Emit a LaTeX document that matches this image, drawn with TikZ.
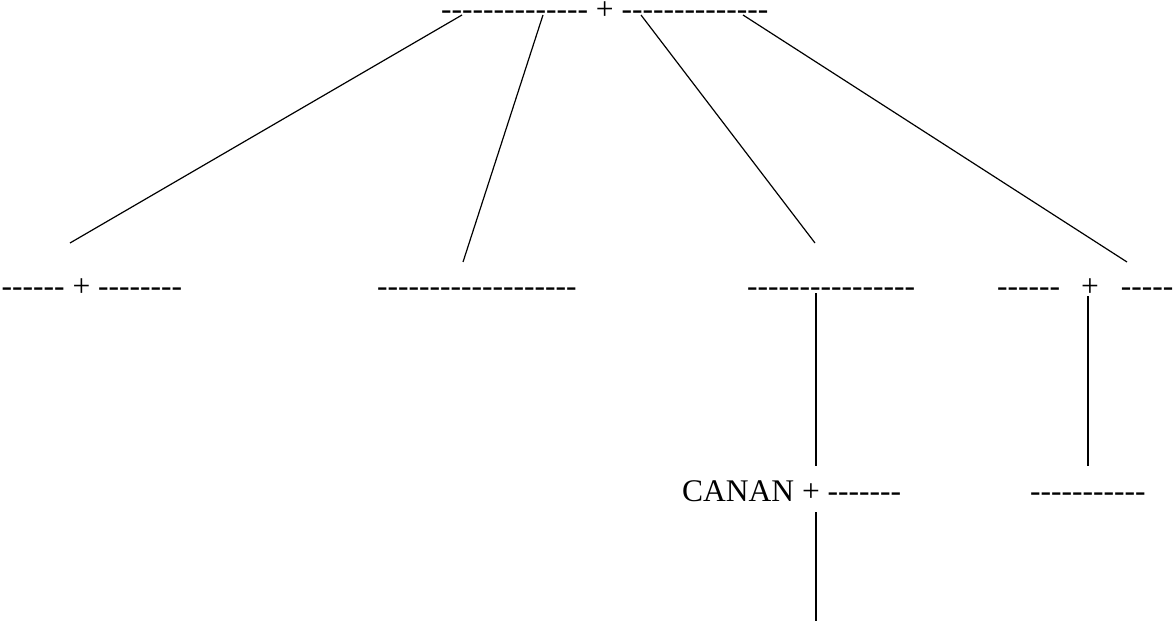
\documentclass[tikz,border=0pt]{standalone}
\usepackage{fontspec}
\setmainfont{Liberation Serif}[Ligatures=TeXOff]
\begin{document}
\begin{tikzpicture}[x=1pt,y=-1pt,
  lbl/.style={anchor=base west,inner sep=0pt,font=\fontsize{31.5}{36}\selectfont},
  conn/.style={line width=1.2pt}]
\useasboundingbox (0,0) rectangle (1176,623);
% texts
\node[lbl] (top) at (441,20) {-------------- + --------------};
\node[lbl] (a) at (1.5,296) {------ + --------};
\node[lbl] (b) at (377,296) {-------------------};
\node[lbl] (c) at (747,296) {----------------};
\node[lbl] (d) at (997,296) {------\hspace{21pt}+\hspace{22pt}-----};
\node[lbl] (e) at (682,501) {CANAN + -------};
\node[lbl] (f) at (1030,501) {-----------};
% connector ends
\coordinate (t1) at (462,15);
\coordinate (t2) at (543,15);
\coordinate (t3) at (641,15);
\coordinate (t4) at (743,15);
\coordinate (a1) at (70,243);
\coordinate (b1) at (463,262);
\coordinate (c1) at (815,243);
\coordinate (d1) at (1127,262);
\coordinate (c2) at (816,293);
\coordinate (e1) at (816,466);
\coordinate (e2) at (816,512);
\coordinate (e3) at (816,621);
\coordinate (d2) at (1088,296);
\coordinate (f1) at (1088,466);
% connectors
\draw[conn] (t1) -- (a1);
\draw[conn] (t2) -- (b1);
\draw[conn] (t3) -- (c1);
\draw[conn] (t4) -- (d1);
\draw[conn] (c2) -- (e1);
\draw[conn] (e2) -- (e3);
\draw[conn] (d2) -- (f1);
\end{tikzpicture}
\end{document}
